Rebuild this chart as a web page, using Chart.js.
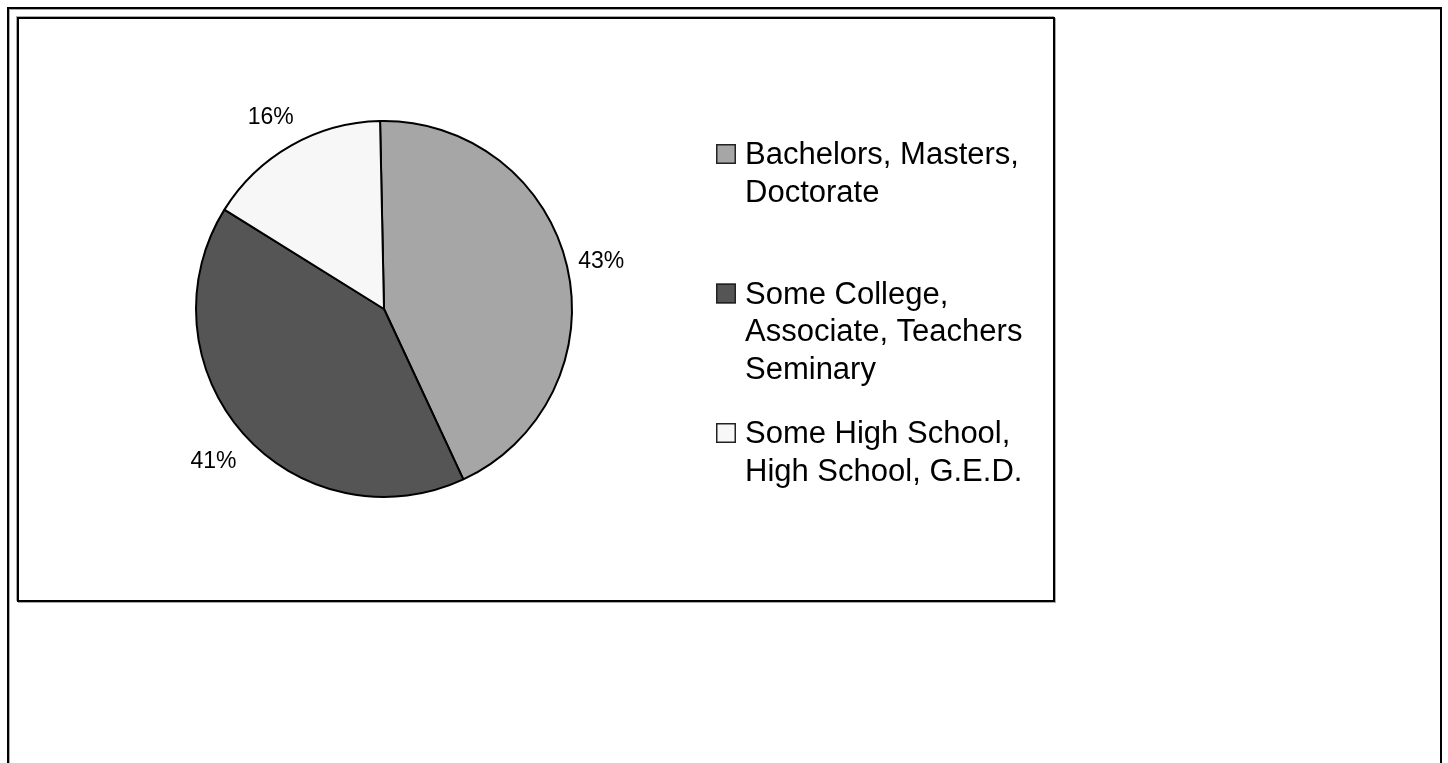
<!DOCTYPE html>
<html>
<head>
<meta charset="utf-8">
<script src="https://cdn.jsdelivr.net/npm/chart.js@4.4.1/dist/chart.umd.min.js"></script>
<style>
  html, body { margin: 0; padding: 0; background: #fff; width: 1448px; height: 763px; overflow: hidden; }
  #outer { position: absolute; left: 7px; top: 7px; width: 1431px; height: 800px; border: 2px solid #000; box-shadow: inset 1px 1px 0 #aaa; }
  #inner { position: absolute; left: 17px; top: 17px; width: 1034px; height: 581px; border: 2px solid #000; box-shadow: -1px -1px 0 #aaa, 1px 1px 0 #aaa; }
  #wrap { position: absolute; left: 0; top: 0; width: 1448px; height: 763px; }
</style>
</head>
<body>
<div id="outer"></div>
<div id="inner"></div>
<div id="wrap"><canvas id="c" width="1448" height="763"></canvas></div>
<script>
// ---- data ----
const categories = [
  ["Bachelors, Masters,", "Doctorate"],
  ["Some College,", "Associate, Teachers", "Seminary"],
  ["Some High School,", "High School, G.E.D."]
];
const values = [43.4, 40.8, 15.8];
const sliceColors = ["#A6A6A6", "#555555", "#F7F7F7"];

const FONT = '"Liberation Sans", Arial, sans-serif';

const pctLabels = {
  id: 'pctLabels',
  afterDatasetsDraw(chart) {
    const ctx = chart.ctx;
    const meta = chart.getDatasetMeta(0);
    const ds = chart.data.datasets[0].data;
    const total = ds.reduce((a, b) => a + b, 0);
    ctx.save();
    ctx.font = '23px ' + FONT;
    ctx.fillStyle = '#000';
    ctx.textAlign = 'center';
    ctx.textBaseline = 'middle';
    meta.data.forEach((arc, i) => {
      const mid = (arc.startAngle + arc.endAngle) / 2;
      const d = arc.outerRadius + 37;
      const x = arc.x + Math.cos(mid) * d;
      const y = arc.y + Math.sin(mid) * d;
      ctx.fillText(Math.round(ds[i] / total * 100) + '%', x - 2, y + 4);
    });
    ctx.restore();
  }
};

const sideLegend = {
  id: 'sideLegend',
  afterDraw(chart) {
    const ctx = chart.ctx;
    const labels = chart.data.labels;
    const colors = chart.data.datasets[0].backgroundColor;
    ctx.save();
    ctx.font = '31px ' + FONT;
    ctx.textAlign = 'left';
    ctx.textBaseline = 'alphabetic';
    const boxX = 716, textX = 745, firstBase = 164, entryStep = 139.5, lineH = 37.5, box = 20;
    labels.forEach((lines, i) => {
      const base = firstBase + i * entryStep;
      ctx.fillStyle = colors[i];
      ctx.fillRect(boxX, base - box, box, box);
      ctx.strokeStyle = '#222';
      ctx.lineWidth = 1.5;
      ctx.strokeRect(boxX + 0.75, base - box + 0.75, box - 1.5, box - 1.5);
      ctx.fillStyle = '#000';
      lines.forEach((t, j) => ctx.fillText(t, textX, base + j * lineH));
    });
    ctx.restore();
  }
};

new Chart(document.getElementById('c'), {
  type: 'pie',
  data: {
    labels: categories,
    datasets: [{
      data: values,
      backgroundColor: sliceColors,
      borderColor: '#000',
      borderWidth: 2
    }]
  },
  options: {
    responsive: false,
    animation: false,
    rotation: -1.2,
    radius: 188,
    layout: { padding: { left: 184, right: 864, top: 109, bottom: 254 } },
    plugins: {
      legend: { display: false },
      tooltip: { enabled: false },
      title: { display: false }
    }
  },
  plugins: [pctLabels, sideLegend]
});
</script>
</body>
</html>
